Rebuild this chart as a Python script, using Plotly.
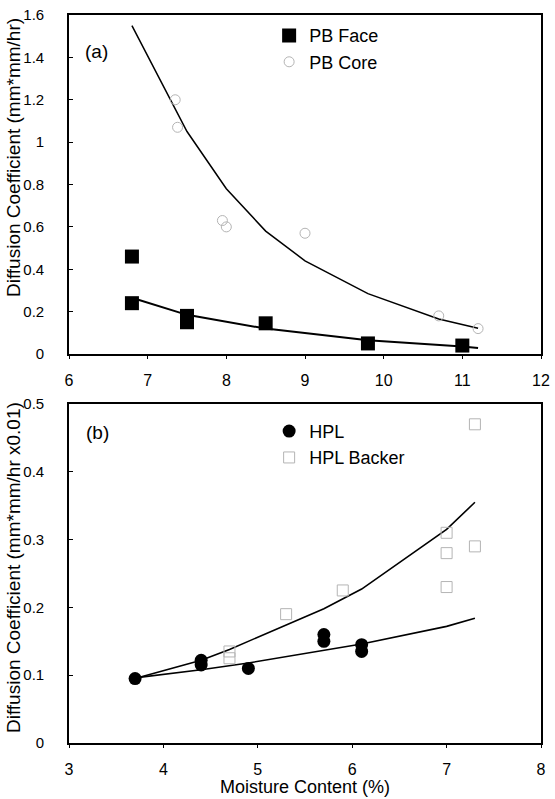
import plotly.graph_objects as go

# Panel (a): particleboard
pb_face_mc = [6.8, 6.8, 7.5, 7.5, 8.5, 9.8, 11.0]
pb_face_d = [0.46, 0.24, 0.18, 0.15, 0.145, 0.05, 0.04]
pb_core_mc = [7.35, 7.38, 7.95, 8.0, 9.0, 10.7, 11.2]
pb_core_d = [1.2, 1.07, 0.63, 0.6, 0.57, 0.18, 0.12]
pb_face_fit_mc = [6.85, 7.5, 8.5, 9.8, 11.0, 11.2]
pb_face_fit_d = [0.26, 0.185, 0.12, 0.065, 0.035, 0.028]
pb_core_fit_mc = [6.8, 7.5, 8.0, 8.5, 9.0, 9.8, 10.7, 11.2]
pb_core_fit_d = [1.55, 1.05, 0.78, 0.58, 0.44, 0.285, 0.165, 0.122]

# Panel (b): high-pressure laminate
hpl_mc = [3.7, 4.4, 4.4, 4.9, 5.7, 5.7, 6.1, 6.1]
hpl_d = [0.095, 0.122, 0.115, 0.11, 0.16, 0.15, 0.145, 0.135]
hpl_backer_mc = [4.7, 4.7, 5.3, 5.9, 7.0, 7.0, 7.0, 7.3, 7.3]
hpl_backer_d = [0.135, 0.125, 0.19, 0.225, 0.31, 0.28, 0.23, 0.47, 0.29]
hpl_fit_mc = [3.7, 4.4, 4.9, 5.7, 6.1, 7.0, 7.3]
hpl_fit_d = [0.096, 0.108, 0.118, 0.137, 0.146, 0.172, 0.184]
hpl_backer_fit_mc = [3.7, 4.4, 4.7, 5.3, 5.7, 6.1, 7.0, 7.3]
hpl_backer_fit_d = [0.095, 0.122, 0.138, 0.174, 0.198, 0.227, 0.315, 0.355]

x_ticks_a = [6, 7, 8, 9, 10, 11, 12]
x_ticks_b = [3, 4, 5, 6, 7, 8]

FONT = "Liberation Sans, Arial, sans-serif"
FAINT = "#b4b4b4"

fig = go.Figure()

# fitted curves
fig.add_trace(go.Scatter(x=pb_core_fit_mc, y=pb_core_fit_d, mode="lines",
                         line=dict(color="black", width=1.5),
                         showlegend=False, xaxis="x", yaxis="y"))
fig.add_trace(go.Scatter(x=pb_face_fit_mc, y=pb_face_fit_d, mode="lines",
                         line=dict(color="black", width=2),
                         showlegend=False, xaxis="x", yaxis="y"))
fig.add_trace(go.Scatter(x=hpl_backer_fit_mc, y=hpl_backer_fit_d, mode="lines",
                         line=dict(color="black", width=1.6),
                         showlegend=False, xaxis="x2", yaxis="y2"))
fig.add_trace(go.Scatter(x=hpl_fit_mc, y=hpl_fit_d, mode="lines",
                         line=dict(color="black", width=1.6),
                         showlegend=False, xaxis="x2", yaxis="y2"))

# measured points
fig.add_trace(go.Scatter(x=pb_face_mc, y=pb_face_d, mode="markers", name="PB Face",
                         marker=dict(symbol="square", size=14, color="black"),
                         legend="legend", xaxis="x", yaxis="y"))
fig.add_trace(go.Scatter(x=pb_core_mc, y=pb_core_d, mode="markers", name="PB Core",
                         marker=dict(symbol="circle-open", size=10, color=FAINT,
                                     line=dict(width=1)),
                         legend="legend", xaxis="x", yaxis="y"))
fig.add_trace(go.Scatter(x=hpl_mc, y=hpl_d, mode="markers", name="HPL",
                         marker=dict(symbol="circle", size=13, color="black"),
                         legend="legend2", xaxis="x2", yaxis="y2"))
fig.add_trace(go.Scatter(x=hpl_backer_mc, y=hpl_backer_d, mode="markers", name="HPL Backer",
                         marker=dict(symbol="square-open", size=11, color=FAINT,
                                     line=dict(width=1)),
                         legend="legend2", xaxis="x2", yaxis="y2"))

axis_common = dict(showline=True, linecolor="black", linewidth=1.6, mirror=True,
                   showgrid=False, zeroline=False,
                   tickcolor="black")
x_font = dict(family=FONT, size=16, color="black")
y_font = dict(family=FONT, size=15, color="black")

fig.update_layout(
    width=555, height=799,
    margin=dict(l=69, r=5, t=15, b=56),
    paper_bgcolor="white", plot_bgcolor="white",
    font=dict(family=FONT, color="black"),
    xaxis=dict(domain=[0, 1], anchor="y", range=[6, 12], tickvals=x_ticks_a,
               ticks="outside", ticklen=3, ticklabelstandoff=8, tickfont=x_font,
               **axis_common),
    yaxis=dict(domain=[0.5343, 1], anchor="x", range=[0, 1.6], dtick=0.2,
               ticks="inside", ticklen=4, ticklabelstandoff=20, tickfont=y_font,
               **axis_common),
    xaxis2=dict(domain=[0, 1], anchor="y2", range=[3, 8], tickvals=x_ticks_b,
                ticks="outside", ticklen=3, ticklabelstandoff=8, tickfont=x_font,
                **axis_common),
    yaxis2=dict(domain=[0, 0.4657], anchor="x2", range=[0, 0.5], dtick=0.1,
                ticks="inside", ticklen=4, ticklabelstandoff=20, tickfont=y_font,
                **axis_common),
    legend=dict(x=0.424, y=0.997, xanchor="left", yanchor="top",
                bgcolor="rgba(0,0,0,0)", tracegroupgap=0,
                font=dict(family=FONT, size=18, color="black")),
    legend2=dict(x=0.424, y=0.4535, xanchor="left", yanchor="top",
                 bgcolor="rgba(0,0,0,0)", tracegroupgap=0,
                 font=dict(family=FONT, size=18, color="black")),
    annotations=[
        dict(text="(a)", x=0.058, y=0.95, xref="paper", yref="paper",
             xanchor="center", yanchor="middle",
             showarrow=False, font=dict(family=FONT, size=19)),
        dict(text="(b)", x=0.06, y=0.427, xref="paper", yref="paper",
             xanchor="center", yanchor="middle",
             showarrow=False, font=dict(family=FONT, size=19)),
        dict(text="Diffusion Coefficient (mm*mm/hr)", textangle=-90,
             x=-0.1164, y=0.8036, xref="paper", yref="paper", showarrow=False,
             xanchor="center", yanchor="middle",
             font=dict(family=FONT, size=19)),
        dict(text="Diffusion Coefficient (mm*mm/hr x0.01)", textangle=-90,
             x=-0.1164, y=0.2404, xref="paper", yref="paper", showarrow=False,
             xanchor="center", yanchor="middle",
             font=dict(family=FONT, size=19)),
        dict(text="Moisture Content (%)", x=0.5, y=-0.0605, xref="paper",
             yref="paper", showarrow=False, xanchor="center", yanchor="middle",
             font=dict(family=FONT, size=18)),
    ],
)

fig.write_html("out.html")
